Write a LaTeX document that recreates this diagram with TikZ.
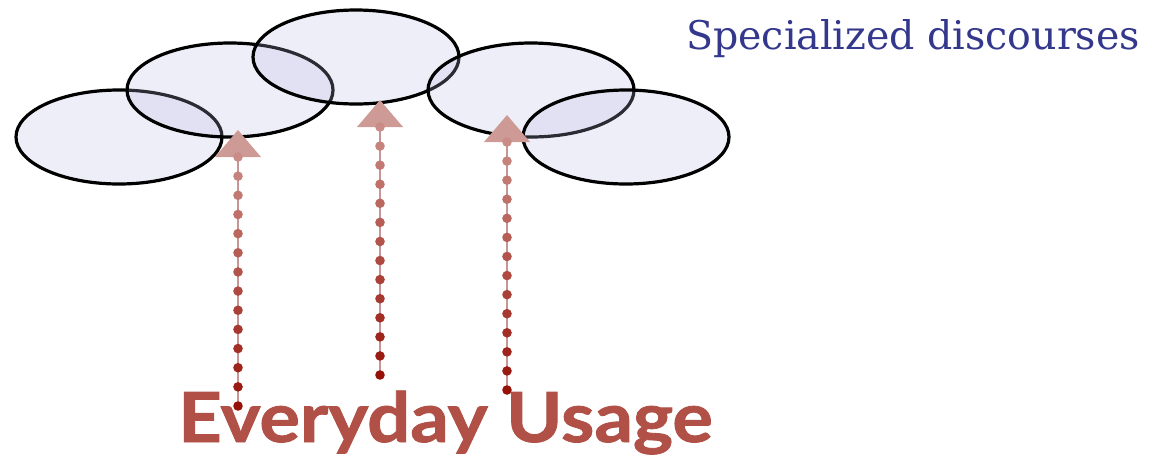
\documentclass[tikz,border=0pt]{standalone}
\usepackage{fontspec}
\usetikzlibrary{shapes.geometric, calc}
\newfontfamily\usagefont{Lato}[BoldFeatures={FakeBold=1.2}]
\newfontfamily\fieldfont{DejaVu Serif}
\definecolor{cloudfill}{RGB}{183,183,225}
\definecolor{usagered}{RGB}{176,80,70}
\definecolor{fieldblue}{RGB}{52,56,140}
\definecolor{tipred}{RGB}{206,154,150}
\definecolor{stemred}{RGB}{196,150,150}
\definecolor{dottop}{RGB}{202,140,134}
\definecolor{dotbottom}{RGB}{150,18,8}

\begin{document}
\begin{tikzpicture}[
x=1pt, y=-1pt,
cloud/.style={draw, ellipse, line width=3.2pt, fill=cloudfill, fill opacity=0.235, draw opacity=1,
  minimum width=206pt, minimum height=94pt, inner sep=0pt},
stem/.style={draw=stemred, line width=1.6pt},
tip/.style={fill=tipred}
]
\useasboundingbox (0,0) rectangle (1159,456);

\node[cloud] (left) at (119,137) {};
\node[cloud] (leftmid) at (230,90) {};
\node[cloud] (top) at (356,57) {};
\node[cloud] (rightmid) at (531,90) {};
\node[cloud] (right) at (626,137) {};

\node[anchor=base west, text=fieldblue, font=\fieldfont\fontsize{39.5}{44}\selectfont, inner sep=0pt]
  (special) at (686,49) {Specialized discourses};

\node[anchor=base west, text=usagered, font=\usagefont\bfseries\fontsize{69}{76}\selectfont, inner sep=0pt,
  xscale=1.1] (usage) at (178,442) {Everyday Usage};

\foreach \name/\x/\ytop/\ybot in {a/238/157/406, b/380/127/375, c/507/142/390} {
  \coordinate (\name base) at (\x,\ytop);
  \coordinate (\name foot) at (\x,\ybot);
  \draw[stem] (\name foot) -- (\name base);
  \fill[tip] (\name base) ++(-23,0) -- ++(23,-27) -- ++(23,27) -- cycle;
  \foreach \i in {0,...,13} {
    \pgfmathsetmacro{\shade}{100-\i*100/13}
    \fill[dotbottom!\shade!dottop] ($(\name foot)!\i/13!(\name base)$) circle (4.8pt);
  }
}

\end{tikzpicture}
\end{document}
